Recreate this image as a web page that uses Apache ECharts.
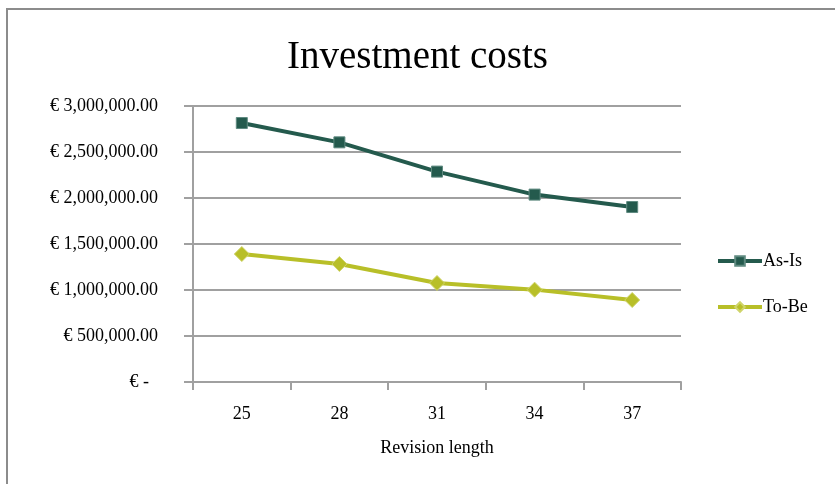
<!DOCTYPE html>
<html>
<head>
<meta charset="utf-8">
<script src="https://cdn.jsdelivr.net/npm/echarts@6/dist/echarts.min.js"></script>
<style>
  html, body { margin: 0; padding: 0; background: #fff; }
  #chart { width: 835px; height: 484px; }
</style>
</head>
<body>
<div id="chart"></div>
<script>
// Revision length categories
const revisionLengths = ['25', '28', '31', '34', '37'];
// Investment costs in euro
const asIsCosts = [2815000, 2605000, 2287000, 2037000, 1902000];
const toBeCosts = [1391000, 1283000, 1076000, 1004000, 891000];
// Value axis ticks
const yTicks = [0, 500000, 1000000, 1500000, 2000000, 2500000, 3000000];

const serif = '"Liberation Serif", "DejaVu Serif", serif';
const gridGray = '#a0a0a0';

function euro(v) {
  if (v === 0) return '€ -  ';
  return '€ ' + v.toLocaleString('en-US', { minimumFractionDigits: 2, maximumFractionDigits: 2 });
}

const chart = echarts.init(document.getElementById('chart'));
chart.setOption({
  animation: false,
  backgroundColor: '#ffffff',
  graphic: [{
    type: 'rect',
    shape: { x: 7, y: 9, width: 840, height: 490 },
    style: { fill: 'none', stroke: '#8c8c8c', lineWidth: 2 },
    silent: true
  }],
  title: {
    text: 'Investment costs',
    left: 'center',
    top: 33,
    textStyle: { fontFamily: serif, fontSize: 39, fontWeight: 'normal', color: '#000' }
  },
  grid: { left: 193, right: 154, top: 106, bottom: 102 },
  legend: {
    orient: 'vertical',
    left: 711,
    top: 247,
    itemGap: 28,
    itemWidth: 44,
    itemHeight: 12,
    lineStyle: { width: 4 },
    textStyle: { fontFamily: serif, fontSize: 18, color: '#000', padding: [0, 0, 0, -4] },
    data: ['As-Is', 'To-Be']
  },
  xAxis: {
    type: 'category',
    data: revisionLengths,
    name: 'Revision length',
    nameLocation: 'middle',
    nameGap: 57,
    nameTextStyle: { fontFamily: serif, fontSize: 18, color: '#000' },
    axisLine: { lineStyle: { color: gridGray, width: 2 } },
    axisTick: { show: true, length: 8, lineStyle: { color: gridGray, width: 2 } },
    axisLabel: { fontFamily: serif, fontSize: 18, color: '#000', margin: 23 }
  },
  yAxis: {
    type: 'value',
    min: yTicks[0],
    max: yTicks[yTicks.length - 1],
    interval: 500000,
    axisLine: { show: true, lineStyle: { color: gridGray, width: 2 } },
    axisTick: { show: true, length: 9, lineStyle: { color: gridGray, width: 2 } },
    splitLine: { lineStyle: { color: gridGray, width: 2 } },
    axisLabel: { fontFamily: serif, fontSize: 18, color: '#000', margin: 35, formatter: euro }
  },
  series: [
    {
      name: 'As-Is',
      type: 'line',
      data: asIsCosts,
      symbol: 'rect',
      symbolSize: 11,
      lineStyle: { color: '#245a4d', width: 4 },
      itemStyle: { color: '#245a4d', borderColor: '#5f8a80', borderWidth: 1 }
    },
    {
      name: 'To-Be',
      type: 'line',
      data: toBeCosts,
      symbol: 'diamond',
      symbolSize: 15,
      lineStyle: { color: '#b8bf28', width: 4 },
      itemStyle: { color: '#b8bf28', borderColor: '#cfd46a', borderWidth: 1 }
    }
  ]
});
</script>
</body>
</html>
